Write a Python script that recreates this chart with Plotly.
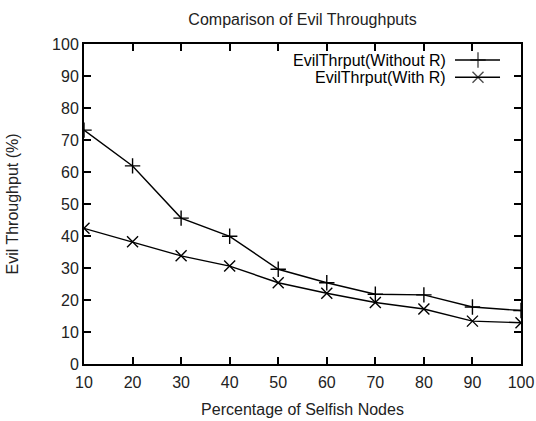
import plotly.graph_objects as go

selfish_pct = [10, 20, 30, 40, 50, 60, 70, 80, 90, 100]
without_r = [73.1, 61.9, 45.6, 39.9, 29.6, 25.4, 21.8, 21.6, 17.8, 16.7]
with_r = [42.4, 38.2, 33.8, 30.6, 25.4, 22.1, 19.2, 17.2, 13.4, 12.9]
series_names = ["EvilThrput(Without R)", "EvilThrput(With R)"]
x_ticks = [10, 20, 30, 40, 50, 60, 70, 80, 90, 100]
y_ticks = [0, 10, 20, 30, 40, 50, 60, 70, 80, 90, 100]

FONT = "Liberation Sans, Arial, sans-serif"
FS = 16
fig = go.Figure()

fig.add_trace(go.Scatter(
    x=selfish_pct, y=without_r, mode="lines+markers", name=series_names[0],
    line=dict(color="black", width=1.4),
    marker=dict(symbol="cross-thin", size=11, line=dict(color="black", width=1.4)),
    showlegend=False))
fig.add_trace(go.Scatter(
    x=selfish_pct, y=with_r, mode="lines+markers", name=series_names[1],
    line=dict(color="black", width=1.4),
    marker=dict(symbol="x-thin", size=11, line=dict(color="black", width=1.4)),
    showlegend=False))

# gnuplot-style legend (text left, sample right) on an overlay axis
legend_rows = [0.95, 0.896]
symbols = ["cross-thin", "x-thin"]
for i, (name, yy) in enumerate(zip(series_names, legend_rows)):
    fig.add_trace(go.Scatter(
        x=[0.849, 0.9016, 0.952], y=[yy, yy, yy], xaxis="x2", yaxis="y2",
        mode="lines+markers", line=dict(color="black", width=1.4),
        marker=dict(symbol=symbols[i], size=[0, 11, 0], line=dict(color="black", width=1.4)),
        showlegend=False, hoverinfo="skip"))
    fig.add_annotation(x=0.827, y=yy, xref="x2", yref="y2", text=name, showarrow=False,
                       xanchor="right", yanchor="middle", xshift=3,
                       font=dict(family=FONT, size=FS, color="black"))

axis_common = dict(showline=True, linecolor="black", linewidth=2, mirror="allticks",
                   ticks="inside", ticklen=7, tickwidth=1.5, tickcolor="black",
                   showgrid=False, zeroline=False, automargin=False,
                   tickfont=dict(family=FONT, size=FS, color="#222"))

fig.update_layout(
    width=536, height=421,
    margin=dict(l=84, r=15, t=44, b=57),
    paper_bgcolor="white", plot_bgcolor="white",
    title=dict(text="Comparison of Evil Throughputs", x=0.5, xref="paper", xanchor="center",
               y=0.955, yanchor="middle", font=dict(family=FONT, size=FS, color="#222")),
    xaxis=dict(range=[10, 100], tickvals=x_ticks, ticklabelstandoff=3,
               title=dict(text="Percentage of Selfish Nodes", standoff=14,
                          font=dict(family=FONT, size=FS, color="#222")),
               **axis_common),
    yaxis=dict(range=[0, 100], tickvals=y_ticks,
               title=dict(text="Evil Throughput (%)", standoff=29,
                          font=dict(family=FONT, size=FS, color="#222")),
               **axis_common),
    xaxis2=dict(range=[0, 1], overlaying="x", visible=False, fixedrange=True),
    yaxis2=dict(range=[0, 1], overlaying="y", visible=False, fixedrange=True),
)

fig.write_html("out.html", config={"displayModeBar": False},
               post_script="document.body.style.margin='0';document.body.style.overflow='hidden';")
